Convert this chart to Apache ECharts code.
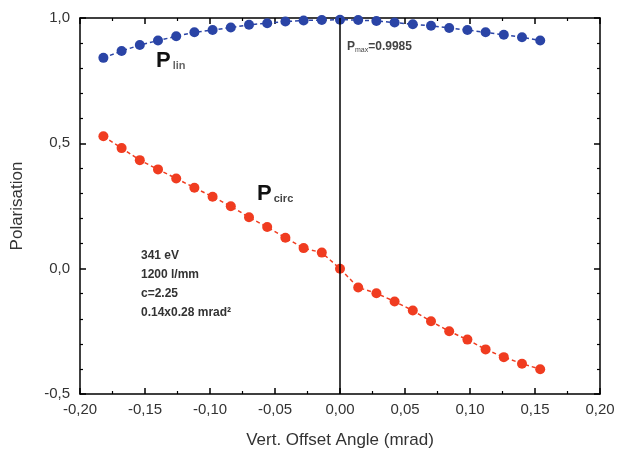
<!DOCTYPE html>
<html>
<head>
<meta charset="utf-8">
<script src="https://cdn.jsdelivr.net/npm/echarts@6/dist/echarts.min.js"></script>
<style>html,body{margin:0;padding:0;background:#fff;}#c{width:618px;height:454px;}</style>
</head>
<body>
<div id="c"></div>
<script>
const angles = [-0.182,-0.168,-0.154,-0.140,-0.126,-0.112,-0.098,-0.084,-0.070,-0.056,-0.042,-0.028,-0.014,0.000,0.014,0.028,0.042,0.056,0.070,0.084,0.098,0.112,0.126,0.140,0.154];
const pLin = [0.841,0.868,0.892,0.910,0.927,0.943,0.952,0.962,0.973,0.979,0.986,0.990,0.992,0.993,0.992,0.988,0.982,0.975,0.969,0.960,0.952,0.943,0.933,0.923,0.910];
const pCirc = [0.528,0.481,0.433,0.396,0.360,0.323,0.287,0.249,0.205,0.166,0.123,0.082,0.064,0.000,-0.075,-0.098,-0.131,-0.167,-0.210,-0.250,-0.283,-0.322,-0.353,-0.379,-0.401];
const xTicks = [-0.20,-0.15,-0.10,-0.05,0.00,0.05,0.10,0.15,0.20];
const yTicks = [-0.5,0.0,0.5,1.0];
const infoLines = ['341 eV','1200 l/mm','c=2.25','0.14x0.28 mrad²'];

const chart = echarts.init(document.getElementById('c'));
const pair = (xs, ys) => xs.map((x, i) => [x, ys[i]]);
const axisLine = {show: true, onZero: false, lineStyle: {color: '#000', width: 1.5}};
const tickStyle = {show: true, inside: true, length: 6, lineStyle: {color: '#000', width: 1.5}};
const minorStyle = {show: true, length: 3, lineStyle: {color: '#000', width: 1.2}};
const labelFont = {fontFamily: 'Liberation Sans, Arial, sans-serif', fontSize: 15, color: '#333'};

chart.setOption({
  animation: false,
  grid: {left: 80, right: 18, top: 18, bottom: 56},
  xAxis: [{
    type: 'value', min: xTicks[0], max: xTicks[xTicks.length-1], interval: 0.05,
    axisLine, axisTick: tickStyle, minorTick: Object.assign({splitNumber: 2}, minorStyle),
    splitLine: {show: false},
    axisLabel: Object.assign({margin: 8, formatter: v => v.toFixed(2).replace('.', ',')}, labelFont),
    name: 'Vert. Offset Angle (mrad)', nameLocation: 'middle', nameGap: 38,
    nameTextStyle: {fontFamily: 'Liberation Sans, Arial, sans-serif', fontSize: 17, color: '#333'}
  }, {
    type: 'value', position: 'top', min: xTicks[0], max: xTicks[xTicks.length-1], interval: 0.05,
    axisLine, axisTick: tickStyle, minorTick: Object.assign({splitNumber: 2}, minorStyle),
    splitLine: {show: false}, axisLabel: {show: false}
  }],
  yAxis: [{
    type: 'value', min: yTicks[0], max: yTicks[yTicks.length-1], interval: 0.5,
    axisLine, axisTick: tickStyle, minorTick: Object.assign({splitNumber: 5}, minorStyle),
    splitLine: {show: false},
    axisLabel: Object.assign({margin: 10, formatter: v => v.toFixed(1).replace('.', ',')}, labelFont),
    name: 'Polarisation', nameLocation: 'middle', nameGap: 54,
    nameTextStyle: {fontFamily: 'Liberation Sans, Arial, sans-serif', fontSize: 17, color: '#333'}
  }, {
    type: 'value', position: 'right', min: yTicks[0], max: yTicks[yTicks.length-1], interval: 0.5,
    axisLine, axisTick: tickStyle, minorTick: Object.assign({splitNumber: 5}, minorStyle),
    splitLine: {show: false}, axisLabel: {show: false}
  }],
  series: [{
    type: 'line', data: pair(angles, pLin),
    symbol: 'circle', symbolSize: 10,
    itemStyle: {color: '#2a44a6'},
    lineStyle: {color: '#2a44a6', width: 1.5, type: [4, 3]},
    z: 3
  }, {
    type: 'line', data: pair(angles, pCirc),
    symbol: 'circle', symbolSize: 10,
    itemStyle: {color: '#f03c20'},
    lineStyle: {color: '#f03c20', width: 1.5, type: [4, 3]},
    z: 3,
    markLine: {
      silent: true, symbol: 'none', label: {show: false},
      lineStyle: {color: '#000', width: 1.5, type: 'solid'},
      data: [{xAxis: 0}]
    }
  }],
  graphic: [
    {type: 'text', left: 156, top: 50, style: {
      text: '{p|P}{s|lin}', rich: {
        p: {fontFamily: 'Liberation Sans, Arial, sans-serif', fontSize: 22, fontWeight: 'bold', fill: '#111'},
        s: {fontFamily: 'Liberation Sans, Arial, sans-serif', fontSize: 11, fontWeight: 'bold', fill: '#666', padding: [10, 0, 0, 2]}
      }}},
    {type: 'text', left: 257, top: 183, style: {
      text: '{p|P}{s|circ}', rich: {
        p: {fontFamily: 'Liberation Sans, Arial, sans-serif', fontSize: 22, fontWeight: 'bold', fill: '#111'},
        s: {fontFamily: 'Liberation Sans, Arial, sans-serif', fontSize: 11, fontWeight: 'bold', fill: '#444', padding: [10, 0, 0, 2]}
      }}},
    {type: 'text', left: 347, top: 41, style: {
      text: '{p|P}{s|max}{p|=0.9985}', rich: {
        p: {fontFamily: 'Liberation Sans, Arial, sans-serif', fontSize: 12, fontWeight: 'bold', fill: '#444'},
        s: {fontFamily: 'Liberation Sans, Arial, sans-serif', fontSize: 7, fill: '#444', padding: [6, 0, 0, 0]}
      }}},
    {type: 'text', left: 141, top: 246, style: {
      text: infoLines.join('\n'), lineHeight: 19,
      fontFamily: 'Liberation Sans, Arial, sans-serif', fontSize: 12, fontWeight: 'bold', fill: '#333'
    }}
  ]
});
</script>
</body>
</html>
